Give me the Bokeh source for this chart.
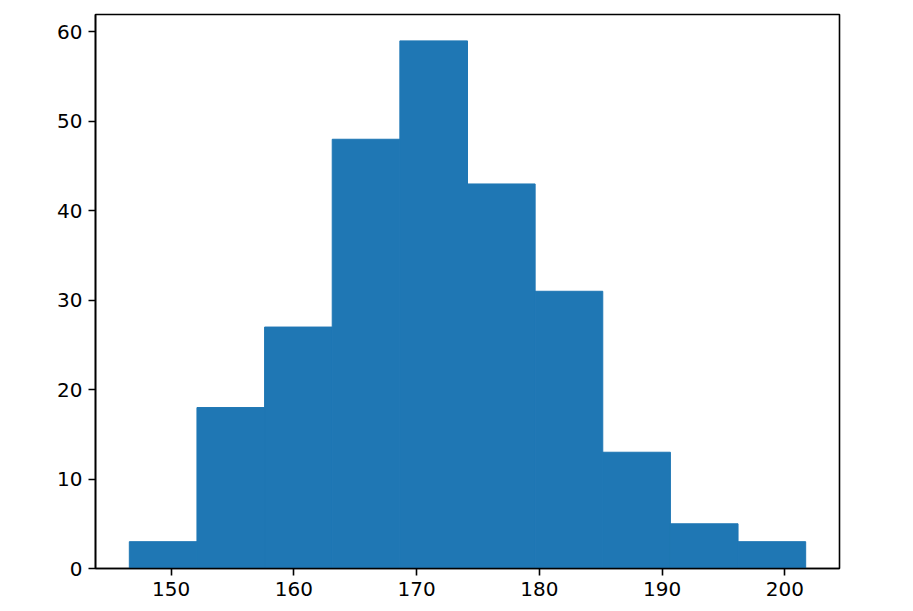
from bokeh.plotting import figure
from bokeh.models import Range1d, FixedTicker, ColumnDataSource
from bokeh.embed import file_html
from bokeh.resources import INLINE

# Histogram data (bin edges and counts)
bin_edges = [146.6, 152.11, 157.62, 163.13, 168.64, 174.15, 179.66, 185.17, 190.68, 196.19, 201.7]
counts = [3, 18, 27, 48, 59, 43, 31, 13, 5, 3]
x_ticks = [150, 160, 170, 180, 190, 200]
y_ticks = [0, 10, 20, 30, 40, 50, 60]

src = ColumnDataSource(dict(left=bin_edges[:-1], right=bin_edges[1:], top=counts,
                            bottom=[0] * len(counts)))

xspan = bin_edges[-1] - bin_edges[0]
p = figure(width=897, height=603, output_backend="svg", toolbar_location=None,
           x_range=Range1d(bin_edges[0] - 0.05 * xspan, bin_edges[-1] + 0.05 * xspan),
           y_range=Range1d(0, max(counts) * 1.05),
           min_border_left=95, min_border_right=58, min_border_top=14, min_border_bottom=35,
           frame_width=744, frame_height=554)

p.quad(left="left", right="right", top="top", bottom="bottom", source=src,
       fill_color="#1f77b4", line_color="#1f77b4", line_width=1)

p.xgrid.grid_line_color = None
p.ygrid.grid_line_color = None
p.outline_line_color = "black"
p.outline_line_width = 1.6
p.outline_line_alpha = 1.0

for ax in (p.xaxis[0], p.yaxis[0]):
    ax.axis_line_color = "black"
    ax.axis_line_width = 1.6
    ax.major_tick_line_color = "black"
    ax.major_tick_line_width = 1.6
    ax.major_tick_out = 7
    ax.major_tick_in = 0
    ax.minor_tick_line_color = None
    ax.major_label_text_font = "DejaVu Sans"
    ax.major_label_text_font_size = "20px"
    ax.major_label_text_color = "black"
    ax.major_label_standoff = 6

p.xaxis[0].ticker = FixedTicker(ticks=x_ticks)
p.yaxis[0].ticker = FixedTicker(ticks=y_ticks)

p.background_fill_color = "white"
p.border_fill_color = "white"

open("out.html", "w").write(file_html(p, INLINE))
